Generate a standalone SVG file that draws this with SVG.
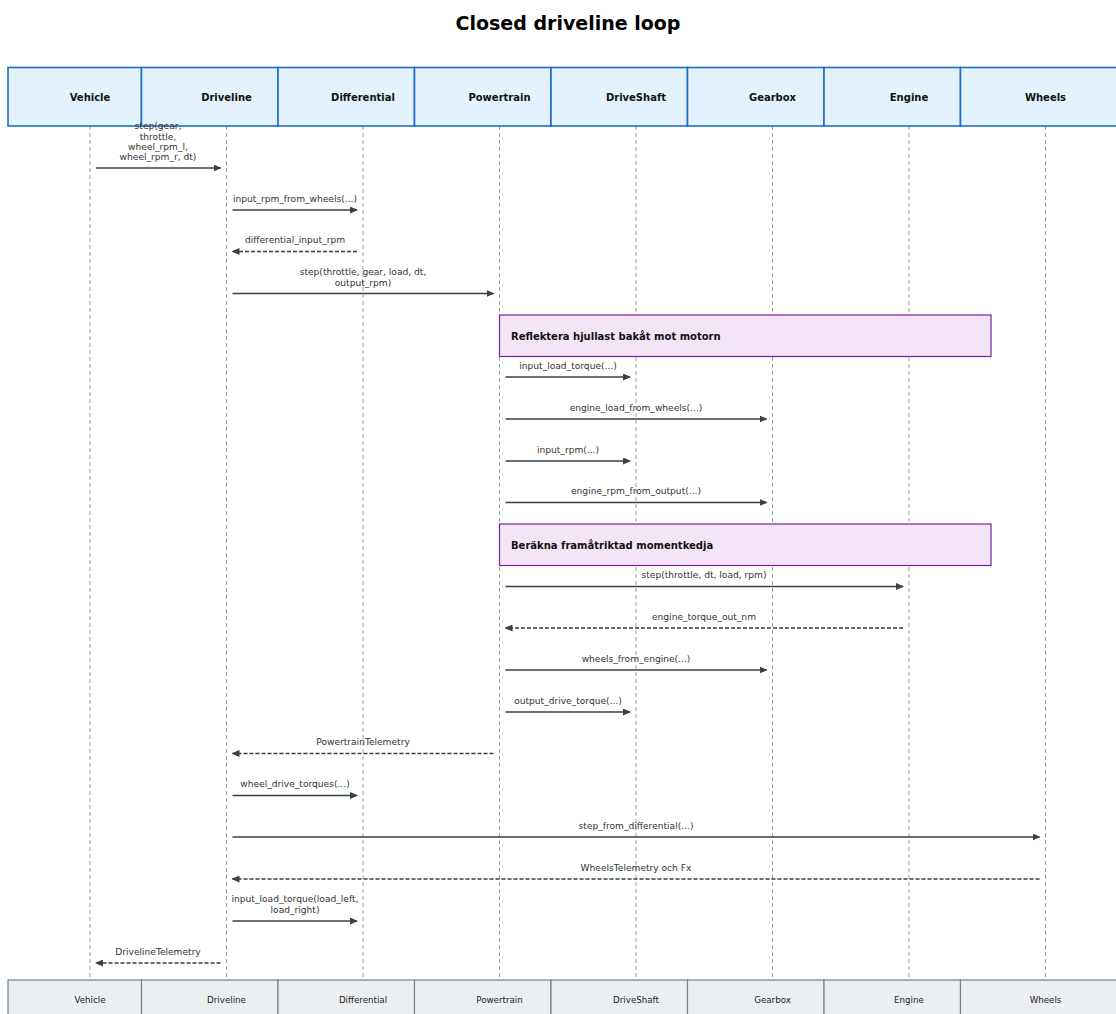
<svg xmlns="http://www.w3.org/2000/svg" width="1116" height="1014" viewBox="0 0 1116 1014">
<style>
.title{font-family:"DejaVu Sans",sans-serif;font-size:19px;font-weight:bold;fill:#000;text-anchor:middle}
.hdr{fill:#e3f2fd;stroke:#1e6fc8;stroke-width:1.6}
.hdrt{font-family:"DejaVu Sans",sans-serif;font-size:10px;font-weight:bold;fill:#111;text-anchor:middle}
.ftr{fill:#eceff1;stroke:#6f8594;stroke-width:1.2}
.ftrt{font-family:"DejaVu Sans",sans-serif;font-size:8.7px;fill:#222;text-anchor:middle}
.life{stroke:#90a4ae;stroke-width:1;stroke-dasharray:4 3}
.msg{stroke:#37414a;stroke-width:1.4;fill:none}
.ret{stroke:#37414a;stroke-width:1.4;fill:none;stroke-dasharray:4 2}
.lbl{font-family:"DejaVu Sans",sans-serif;font-size:9.1px;fill:#333;text-anchor:middle}
.note{fill:#f3e5f5;stroke:#7b1fa2;stroke-width:1.2}
.notet{font-family:"DejaVu Sans",sans-serif;font-size:10px;font-weight:bold;fill:#111}
</style>
<defs>
<marker id="ah" markerWidth="8" markerHeight="7" refX="7" refY="3.5" orient="auto" markerUnits="userSpaceOnUse">
<path d="M0,0 L8,3.5 L0,7 Z" fill="#37414a"/>
</marker>
</defs>
<rect width="1116" height="1014" fill="#fff"/>
<text class="title" x="568" y="30">Closed driveline loop</text>

<g id="lifelines">
<line class="life" x1="90" y1="126" x2="90" y2="980"/>
<line class="life" x1="226.5" y1="126" x2="226.5" y2="980"/>
<line class="life" x1="363" y1="126" x2="363" y2="980"/>
<line class="life" x1="499.5" y1="126" x2="499.5" y2="980"/>
<line class="life" x1="636" y1="126" x2="636" y2="980"/>
<line class="life" x1="772.5" y1="126" x2="772.5" y2="980"/>
<line class="life" x1="909" y1="126" x2="909" y2="980"/>
<line class="life" x1="1045.5" y1="126" x2="1045.5" y2="980"/>
</g>

<g id="node-Vehicle"><rect class="hdr" x="8" y="67.5" width="133.5" height="58.5"/><text class="hdrt" x="90" y="100.5">Vehicle</text></g>
<g id="node-Driveline"><rect class="hdr" x="141.5" y="67.5" width="136.5" height="58.5"/><text class="hdrt" x="226.5" y="100.5">Driveline</text></g>
<g id="node-Differential"><rect class="hdr" x="278" y="67.5" width="136.5" height="58.5"/><text class="hdrt" x="363" y="100.5">Differential</text></g>
<g id="node-Powertrain"><rect class="hdr" x="414.5" y="67.5" width="136.5" height="58.5"/><text class="hdrt" x="499.5" y="100.5">Powertrain</text></g>
<g id="node-DriveShaft"><rect class="hdr" x="551" y="67.5" width="136.5" height="58.5"/><text class="hdrt" x="636" y="100.5">DriveShaft</text></g>
<g id="node-Gearbox"><rect class="hdr" x="687.5" y="67.5" width="136.5" height="58.5"/><text class="hdrt" x="772.5" y="100.5">Gearbox</text></g>
<g id="node-Engine"><rect class="hdr" x="824" y="67.5" width="136.5" height="58.5"/><text class="hdrt" x="909" y="100.5">Engine</text></g>
<g id="node-Wheels"><rect class="hdr" x="960.5" y="67.5" width="171" height="58.5"/><text class="hdrt" x="1045.5" y="100.5">Wheels</text></g>

<g id="footer-Vehicle"><rect class="ftr" x="8" y="980" width="133.5" height="40"/><text class="ftrt" x="90" y="1003">Vehicle</text></g>
<g id="footer-Driveline"><rect class="ftr" x="141.5" y="980" width="136.5" height="40"/><text class="ftrt" x="226.5" y="1003">Driveline</text></g>
<g id="footer-Differential"><rect class="ftr" x="278" y="980" width="136.5" height="40"/><text class="ftrt" x="363" y="1003">Differential</text></g>
<g id="footer-Powertrain"><rect class="ftr" x="414.5" y="980" width="136.5" height="40"/><text class="ftrt" x="499.5" y="1003">Powertrain</text></g>
<g id="footer-DriveShaft"><rect class="ftr" x="551" y="980" width="136.5" height="40"/><text class="ftrt" x="636" y="1003">DriveShaft</text></g>
<g id="footer-Gearbox"><rect class="ftr" x="687.5" y="980" width="136.5" height="40"/><text class="ftrt" x="772.5" y="1003">Gearbox</text></g>
<g id="footer-Engine"><rect class="ftr" x="824" y="980" width="136.5" height="40"/><text class="ftrt" x="909" y="1003">Engine</text></g>
<g id="footer-Wheels"><rect class="ftr" x="960.5" y="980" width="171" height="40"/><text class="ftrt" x="1045.5" y="1003">Wheels</text></g>

<g id="note-1"><rect class="note" x="499.5" y="315" width="491.5" height="41.5"/><text class="notet" x="511" y="339.5">Reflektera hjullast bakåt mot motorn</text></g>
<g id="note-2"><rect class="note" x="499.5" y="524" width="491.5" height="41.5"/><text class="notet" x="511" y="548.5">Beräkna framåtriktad momentkedja</text></g>

<g id="connectors">
<line class="msg" x1="96" y1="168" x2="220.5" y2="168" marker-end="url(#ah)"/>
<text class="lbl" x="158"><tspan x="158" y="129">step(gear,</tspan><tspan x="158" y="139.5">throttle,</tspan><tspan x="158" y="150">wheel_rpm_l,</tspan><tspan x="158" y="160">wheel_rpm_r, dt)</tspan></text>

<line class="msg" x1="232.5" y1="210" x2="357" y2="210" marker-end="url(#ah)"/>
<text class="lbl" x="295" y="201.5">input_rpm_from_wheels(...)</text>

<line class="ret" x1="357" y1="251.5" x2="232.5" y2="251.5" marker-end="url(#ah)"/>
<text class="lbl" x="295" y="243">differential_input_rpm</text>

<line class="msg" x1="232.5" y1="293.5" x2="493.5" y2="293.5" marker-end="url(#ah)"/>
<text class="lbl"><tspan x="363" y="275">step(throttle, gear, load, dt,</tspan><tspan x="363" y="285.5">output_rpm)</tspan></text>

<line class="msg" x1="505.5" y1="377" x2="630" y2="377" marker-end="url(#ah)"/>
<text class="lbl" x="568" y="368.5">input_load_torque(...)</text>

<line class="msg" x1="505.5" y1="419" x2="766.5" y2="419" marker-end="url(#ah)"/>
<text class="lbl" x="636" y="410.5">engine_load_from_wheels(...)</text>

<line class="msg" x1="505.5" y1="461" x2="630" y2="461" marker-end="url(#ah)"/>
<text class="lbl" x="568" y="452.5">input_rpm(...)</text>

<line class="msg" x1="505.5" y1="502.5" x2="766.5" y2="502.5" marker-end="url(#ah)"/>
<text class="lbl" x="636" y="494">engine_rpm_from_output(...)</text>

<line class="msg" x1="505.5" y1="586.5" x2="903" y2="586.5" marker-end="url(#ah)"/>
<text class="lbl" x="704" y="578">step(throttle, dt, load, rpm)</text>

<line class="ret" x1="903" y1="628" x2="505.5" y2="628" marker-end="url(#ah)"/>
<text class="lbl" x="704" y="619.5">engine_torque_out_nm</text>

<line class="msg" x1="505.5" y1="670" x2="766.5" y2="670" marker-end="url(#ah)"/>
<text class="lbl" x="636" y="661.5">wheels_from_engine(...)</text>

<line class="msg" x1="505.5" y1="712" x2="630" y2="712" marker-end="url(#ah)"/>
<text class="lbl" x="568" y="703.5">output_drive_torque(...)</text>

<line class="ret" x1="493.5" y1="753.5" x2="232.5" y2="753.5" marker-end="url(#ah)"/>
<text class="lbl" x="363" y="745">PowertrainTelemetry</text>

<line class="msg" x1="232.5" y1="795.5" x2="357" y2="795.5" marker-end="url(#ah)"/>
<text class="lbl" x="295" y="787">wheel_drive_torques(...)</text>

<line class="msg" x1="232.5" y1="837" x2="1039.5" y2="837" marker-end="url(#ah)"/>
<text class="lbl" x="636" y="828.5">step_from_differential(...)</text>

<line class="ret" x1="1039.5" y1="879" x2="232.5" y2="879" marker-end="url(#ah)"/>
<text class="lbl" x="636" y="870.5">WheelsTelemetry och Fx</text>

<line class="msg" x1="232.5" y1="921" x2="357" y2="921" marker-end="url(#ah)"/>
<text class="lbl"><tspan x="295" y="902">input_load_torque(load_left,</tspan><tspan x="295" y="912.5">load_right)</tspan></text>

<line class="ret" x1="220.5" y1="963" x2="96" y2="963" marker-end="url(#ah)"/>
<text class="lbl" x="158" y="954.5">DrivelineTelemetry</text>
</g>
</svg>
